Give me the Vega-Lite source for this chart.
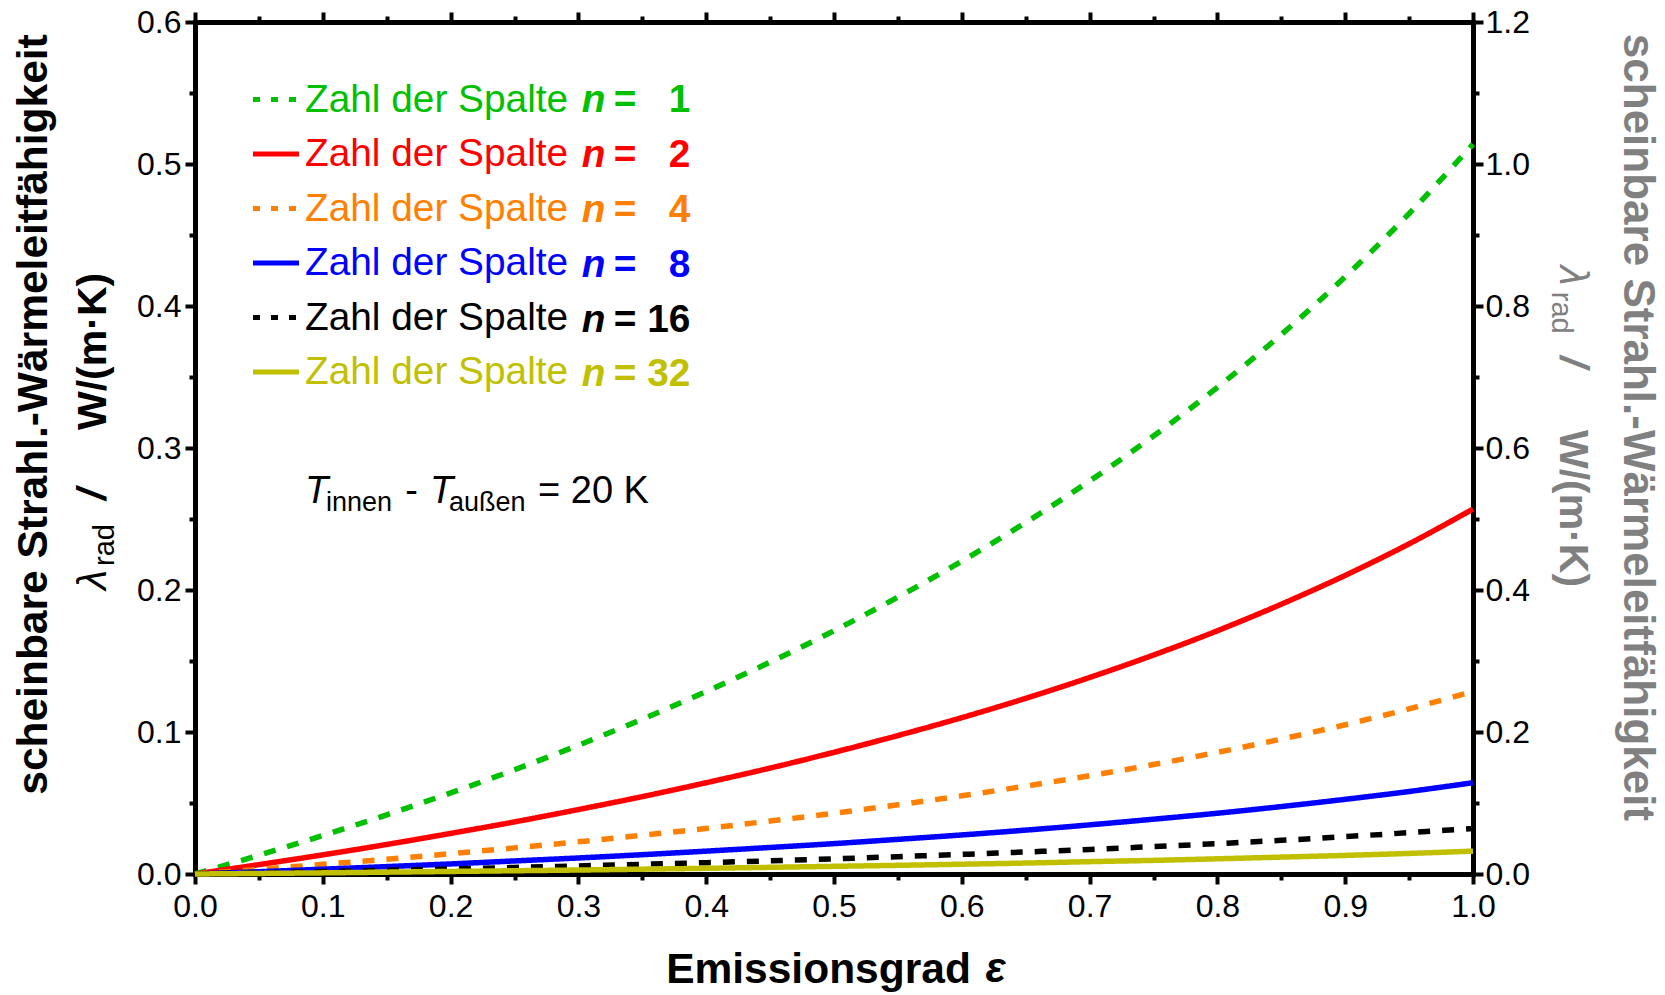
{
  "$schema": "https://vega.github.io/schema/vega-lite/v6.json",
  "width": 1278,
  "height": 852,
  "autosize": {"type": "none"},
  "padding": {"left": 195, "top": 22, "right": 192, "bottom": 121},
  "background": "white",
  "config": {
    "view": {"stroke": null},
    "font": "Liberation Sans",
    "axis": {
      "domainColor": "black", "domainWidth": 5, "domainCap": "square",
      "tickColor": "black", "tickWidth": 4,
      "labelColor": "black", "labelFont": "Liberation Sans", "labelFontSize": 32,
      "labelFlush": false, "labelOverlap": false, "grid": false,
      "titleFont": "Liberation Sans", "titleFontSize": 42.5, "titleFontWeight": "bold", "titleColor": "black"
    }
  },
  "datasets": {
    "curves": [
      {"eps":0,"lam":0,"n":1},{"eps":0.05,"lam":0.0132,"n":1},{"eps":0.1,"lam":0.0271,"n":1},{"eps":0.15,"lam":0.0417,"n":1},{"eps":0.2,"lam":0.0571,"n":1},{"eps":0.25,"lam":0.0734,"n":1},{"eps":0.3,"lam":0.0907,"n":1},{"eps":0.35,"lam":0.109,"n":1},{"eps":0.4,"lam":0.1285,"n":1},{"eps":0.45,"lam":0.1492,"n":1},{"eps":0.5,"lam":0.1713,"n":1},{"eps":0.55,"lam":0.195,"n":1},{"eps":0.6,"lam":0.2203,"n":1},{"eps":0.65,"lam":0.2475,"n":1},{"eps":0.7,"lam":0.2768,"n":1},{"eps":0.75,"lam":0.3084,"n":1},{"eps":0.8,"lam":0.3427,"n":1},{"eps":0.85,"lam":0.3799,"n":1},{"eps":0.9,"lam":0.4206,"n":1},{"eps":0.95,"lam":0.4651,"n":1},{"eps":1,"lam":0.514,"n":1},
      {"eps":0,"lam":0,"n":2},{"eps":0.05,"lam":0.0066,"n":2},{"eps":0.1,"lam":0.0135,"n":2},{"eps":0.15,"lam":0.0208,"n":2},{"eps":0.2,"lam":0.0286,"n":2},{"eps":0.25,"lam":0.0367,"n":2},{"eps":0.3,"lam":0.0454,"n":2},{"eps":0.35,"lam":0.0545,"n":2},{"eps":0.4,"lam":0.0643,"n":2},{"eps":0.45,"lam":0.0746,"n":2},{"eps":0.5,"lam":0.0857,"n":2},{"eps":0.55,"lam":0.0975,"n":2},{"eps":0.6,"lam":0.1101,"n":2},{"eps":0.65,"lam":0.1237,"n":2},{"eps":0.7,"lam":0.1384,"n":2},{"eps":0.75,"lam":0.1542,"n":2},{"eps":0.8,"lam":0.1713,"n":2},{"eps":0.85,"lam":0.19,"n":2},{"eps":0.9,"lam":0.2103,"n":2},{"eps":0.95,"lam":0.2325,"n":2},{"eps":1,"lam":0.257,"n":2},
      {"eps":0,"lam":0,"n":4},{"eps":0.05,"lam":0.0033,"n":4},{"eps":0.1,"lam":0.0068,"n":4},{"eps":0.15,"lam":0.0104,"n":4},{"eps":0.2,"lam":0.0143,"n":4},{"eps":0.25,"lam":0.0184,"n":4},{"eps":0.3,"lam":0.0227,"n":4},{"eps":0.35,"lam":0.0273,"n":4},{"eps":0.4,"lam":0.0321,"n":4},{"eps":0.45,"lam":0.0373,"n":4},{"eps":0.5,"lam":0.0428,"n":4},{"eps":0.55,"lam":0.0487,"n":4},{"eps":0.6,"lam":0.0551,"n":4},{"eps":0.65,"lam":0.0619,"n":4},{"eps":0.7,"lam":0.0692,"n":4},{"eps":0.75,"lam":0.0771,"n":4},{"eps":0.8,"lam":0.0857,"n":4},{"eps":0.85,"lam":0.095,"n":4},{"eps":0.9,"lam":0.1051,"n":4},{"eps":0.95,"lam":0.1163,"n":4},{"eps":1,"lam":0.1285,"n":4},
      {"eps":0,"lam":0,"n":8},{"eps":0.05,"lam":0.0016,"n":8},{"eps":0.1,"lam":0.0034,"n":8},{"eps":0.15,"lam":0.0052,"n":8},{"eps":0.2,"lam":0.0071,"n":8},{"eps":0.25,"lam":0.0092,"n":8},{"eps":0.3,"lam":0.0113,"n":8},{"eps":0.35,"lam":0.0136,"n":8},{"eps":0.4,"lam":0.0161,"n":8},{"eps":0.45,"lam":0.0187,"n":8},{"eps":0.5,"lam":0.0214,"n":8},{"eps":0.55,"lam":0.0244,"n":8},{"eps":0.6,"lam":0.0275,"n":8},{"eps":0.65,"lam":0.0309,"n":8},{"eps":0.7,"lam":0.0346,"n":8},{"eps":0.75,"lam":0.0386,"n":8},{"eps":0.8,"lam":0.0428,"n":8},{"eps":0.85,"lam":0.0475,"n":8},{"eps":0.9,"lam":0.0526,"n":8},{"eps":0.95,"lam":0.0581,"n":8},{"eps":1,"lam":0.0643,"n":8},
      {"eps":0,"lam":0,"n":16},{"eps":0.05,"lam":0.0008,"n":16},{"eps":0.1,"lam":0.0017,"n":16},{"eps":0.15,"lam":0.0026,"n":16},{"eps":0.2,"lam":0.0036,"n":16},{"eps":0.25,"lam":0.0046,"n":16},{"eps":0.3,"lam":0.0057,"n":16},{"eps":0.35,"lam":0.0068,"n":16},{"eps":0.4,"lam":0.008,"n":16},{"eps":0.45,"lam":0.0093,"n":16},{"eps":0.5,"lam":0.0107,"n":16},{"eps":0.55,"lam":0.0122,"n":16},{"eps":0.6,"lam":0.0138,"n":16},{"eps":0.65,"lam":0.0155,"n":16},{"eps":0.7,"lam":0.0173,"n":16},{"eps":0.75,"lam":0.0193,"n":16},{"eps":0.8,"lam":0.0214,"n":16},{"eps":0.85,"lam":0.0237,"n":16},{"eps":0.9,"lam":0.0263,"n":16},{"eps":0.95,"lam":0.0291,"n":16},{"eps":1,"lam":0.0321,"n":16},
      {"eps":0,"lam":0,"n":32},{"eps":0.05,"lam":0.0004,"n":32},{"eps":0.1,"lam":0.0008,"n":32},{"eps":0.15,"lam":0.0013,"n":32},{"eps":0.2,"lam":0.0018,"n":32},{"eps":0.25,"lam":0.0023,"n":32},{"eps":0.3,"lam":0.0028,"n":32},{"eps":0.35,"lam":0.0034,"n":32},{"eps":0.4,"lam":0.004,"n":32},{"eps":0.45,"lam":0.0047,"n":32},{"eps":0.5,"lam":0.0054,"n":32},{"eps":0.55,"lam":0.0061,"n":32},{"eps":0.6,"lam":0.0069,"n":32},{"eps":0.65,"lam":0.0077,"n":32},{"eps":0.7,"lam":0.0087,"n":32},{"eps":0.75,"lam":0.0096,"n":32},{"eps":0.8,"lam":0.0107,"n":32},{"eps":0.85,"lam":0.0119,"n":32},{"eps":0.9,"lam":0.0131,"n":32},{"eps":0.95,"lam":0.0145,"n":32},{"eps":1,"lam":0.0161,"n":32}
    ]
  },
  "layer": [
    {
      "layer": [
        {
          "data": {"name": "curves"},
          "mark": {"type": "line", "interpolate": "monotone", "strokeCap": "butt"},
          "encoding": {
            "x": {
              "field": "eps", "type": "quantitative",
              "scale": {"domain": [0, 1], "nice": false, "zero": false},
              "axis": {
                "orient": "bottom",
                "values": [0,0.05,0.1,0.15,0.2,0.25,0.3,0.35,0.4,0.45,0.5,0.55,0.6,0.65,0.7,0.75,0.8,0.85,0.9,0.95,1],
                "labelExpr": "round(datum.value*20) % 2 == 0 ? format(datum.value, '.1f') : ''",
                "tickSize": {"condition": {"test": "round(datum.value*20) % 2 == 0", "value": 10}, "value": 6},
                "labelPadding": 7,
                "title": "Emissionsgrad",
                "titleBaseline": "alphabetic",
                "titleX": 623, "titleY": 108
              }
            },
            "y": {
              "field": "lam", "type": "quantitative",
              "scale": {"domain": [0, 0.6], "nice": false},
              "axis": {
                "orient": "left",
                "values": [0,0.05,0.1,0.15,0.2,0.25,0.3,0.35,0.4,0.45,0.5,0.55,0.6],
                "labelExpr": "round(datum.value*20) % 2 == 0 ? format(datum.value, '.1f') : ''",
                "tickSize": {"condition": {"test": "round(datum.value*20) % 2 == 0", "value": 10}, "value": 6},
                "labelPadding": 4,
                "title": "scheinbare Strahl.-Wärmeleitfähigkeit",
                "titleBaseline": "alphabetic",
                "titleX": -149, "titleY": 392
              }
            },
            "color": {
              "field": "n", "type": "nominal",
              "scale": {"domain": [1, 2, 4, 8, 16, 32], "range": ["#00C000", "#FF0000", "#FF8000", "#0000FF", "#000000", "#C0C000"]},
              "legend": {
                "orient": "none", "legendX": 55.5, "legendY": 52, "title": null, "padding": 0,
                "symbolType": "stroke", "symbolSize": 2116, "symbolStrokeWidth": 5,
                "symbolDash": {"expr": "indexof([1,4,16], datum.value) >= 0 ? [7,11] : [1,0]"},
                "labelExpr": "'Zahl der Spalte'",
                "labelColor": {"expr": "scale('color', datum.value)"},
                "labelFont": "Liberation Sans", "labelFontSize": 38.8, "labelOffset": 3.5, "labelLimit": 0,
                "rowPadding": 8.5
              }
            },
            "strokeDash": {
              "field": "n", "type": "nominal",
              "scale": {"range": [[12, 12], [1, 0], [12, 12], [1, 0], [12, 12], [1, 0]]},
              "legend": null
            },
            "opacity": {
              "field": "n", "type": "ordinal",
              "sort": {"field": "n", "op": "max"},
              "scale": {"range": [1, 1]},
              "legend": {
                "orient": "none", "legendX": 348, "legendY": 59, "title": null, "padding": 0,
                "symbolType": "stroke", "symbolSize": 1, "symbolStrokeWidth": 0, "symbolStrokeColor": "transparent", "symbolFillColor": "transparent",
                "labelExpr": "'n'",
                "labelColor": {"expr": "scale('color', datum.value)"},
                "labelFont": "Liberation Sans", "labelFontSize": 38.8, "labelFontWeight": "bold", "labelFontStyle": "italic",
                "labelOffset": 0, "labelLimit": 0, "rowPadding": 14.8
              }
            },
            "strokeWidth": {
              "field": "n", "type": "ordinal",
              "sort": {"field": "n", "op": "min"},
              "scale": {"range": [5.5, 5.5]},
              "legend": {
                "orient": "none", "legendX": 380, "legendY": 59, "title": null, "padding": 0,
                "symbolType": "stroke", "symbolSize": 1, "symbolStrokeColor": "transparent", "symbolFillColor": "transparent",
                "labelExpr": "'= ' + (datum.value < 10 ? '\u2007' : '') + datum.label",
                "labelColor": {"expr": "scale('color', datum.value)"},
                "labelFont": "Liberation Sans", "labelFontSize": 38.8, "labelFontWeight": "bold",
                "labelOffset": 0, "labelLimit": 0, "rowPadding": 14.8
              }
            }
          }
        },
        {
          "data": {"values": [{}]},
          "mark": {"type": "text", "text": "T", "fontSize": 38, "fontStyle": "italic", "align": "left", "baseline": "alphabetic", "color": "black"},
          "encoding": {"x": {"datum": 0.0861, "type": "quantitative"}, "y": {"datum": 0.2613, "type": "quantitative"}}
        },
        {
          "data": {"values": [{}]},
          "mark": {"type": "text", "text": "innen", "fontSize": 27, "align": "left", "baseline": "alphabetic", "color": "black"},
          "encoding": {"x": {"datum": 0.1025, "type": "quantitative"}, "y": {"datum": 0.2553, "type": "quantitative"}}
        },
        {
          "data": {"values": [{}]},
          "mark": {"type": "text", "text": "-", "fontSize": 38, "align": "left", "baseline": "alphabetic", "color": "black"},
          "encoding": {"x": {"datum": 0.1645, "type": "quantitative"}, "y": {"datum": 0.2613, "type": "quantitative"}}
        },
        {
          "data": {"values": [{}]},
          "mark": {"type": "text", "text": "T", "fontSize": 38, "fontStyle": "italic", "align": "left", "baseline": "alphabetic", "color": "black"},
          "encoding": {"x": {"datum": 0.1839, "type": "quantitative"}, "y": {"datum": 0.2613, "type": "quantitative"}}
        },
        {
          "data": {"values": [{}]},
          "mark": {"type": "text", "text": "außen", "fontSize": 27, "align": "left", "baseline": "alphabetic", "color": "black"},
          "encoding": {"x": {"datum": 0.1987, "type": "quantitative"}, "y": {"datum": 0.2553, "type": "quantitative"}}
        },
        {
          "data": {"values": [{}]},
          "mark": {"type": "text", "text": "ε", "fontSize": 42, "fontStyle": "italic", "fontWeight": "bold", "align": "left", "baseline": "alphabetic", "color": "black"},
          "encoding": {"x": {"datum": 0.6185, "type": "quantitative"}, "y": {"datum": -0.0761, "type": "quantitative"}}
        },
        {
          "data": {"values": [{}]},
          "mark": {"type": "text", "text": "λ", "fontSize": 41, "fontStyle": "italic", "angle": 270, "align": "left", "baseline": "alphabetic", "color": "black"},
          "encoding": {"x": {"datum": -0.0696, "type": "quantitative"}, "y": {"datum": 0.2, "type": "quantitative"}}
        },
        {
          "data": {"values": [{}]},
          "mark": {"type": "text", "text": "rad", "fontSize": 29, "angle": 270, "align": "left", "baseline": "alphabetic", "color": "black"},
          "encoding": {"x": {"datum": -0.0634, "type": "quantitative"}, "y": {"datum": 0.2169, "type": "quantitative"}}
        },
        {
          "data": {"values": [{}]},
          "mark": {"type": "text", "text": "/", "fontSize": 41, "fontStyle": "italic", "fontWeight": "bold", "angle": 270, "align": "left", "baseline": "alphabetic", "color": "black"},
          "encoding": {"x": {"datum": -0.0696, "type": "quantitative"}, "y": {"datum": 0.2634, "type": "quantitative"}}
        },
        {
          "data": {"values": [{}]},
          "mark": {"type": "text", "text": "W/(m·K)", "fontSize": 41, "fontWeight": "bold", "angle": 270, "align": "left", "baseline": "alphabetic", "color": "black"},
          "encoding": {"x": {"datum": -0.0696, "type": "quantitative"}, "y": {"datum": 0.3127, "type": "quantitative"}}
        },
        {
          "data": {"values": [{}]},
          "mark": {"type": "text", "text": "λ", "fontSize": 41, "fontStyle": "italic", "angle": 90, "align": "left", "baseline": "alphabetic", "color": "#808080"},
          "encoding": {"x": {"datum": 1.068, "type": "quantitative"}, "y": {"datum": 0.4285, "type": "quantitative"}}
        },
        {
          "data": {"values": [{}]},
          "mark": {"type": "text", "text": "rad", "fontSize": 29, "angle": 90, "align": "left", "baseline": "alphabetic", "color": "#808080"},
          "encoding": {"x": {"datum": 1.0618, "type": "quantitative"}, "y": {"datum": 0.41, "type": "quantitative"}}
        },
        {
          "data": {"values": [{}]},
          "mark": {"type": "text", "text": "/", "fontSize": 41, "fontStyle": "italic", "fontWeight": "bold", "angle": 90, "align": "left", "baseline": "alphabetic", "color": "#808080"},
          "encoding": {"x": {"datum": 1.068, "type": "quantitative"}, "y": {"datum": 0.3648, "type": "quantitative"}}
        },
        {
          "data": {"values": [{}]},
          "mark": {"type": "text", "text": "W/(m·K)", "fontSize": 41, "fontWeight": "bold", "angle": 90, "align": "left", "baseline": "alphabetic", "color": "#808080"},
          "encoding": {"x": {"datum": 1.068, "type": "quantitative"}, "y": {"datum": 0.3127, "type": "quantitative"}}
        }
      ]
    },
    {
      "data": {"values": [{}]},
      "mark": {"type": "text", "text": "= 20 K", "fontSize": 38, "align": "left", "baseline": "alphabetic", "color": "black"},
      "encoding": {
        "x": {
          "datum": 0.2684, "type": "quantitative",
          "scale": {"domain": [0, 1], "nice": false, "zero": false},
          "axis": {
            "orient": "top", "labels": false, "title": null,
            "values": [0,0.05,0.1,0.15,0.2,0.25,0.3,0.35,0.4,0.45,0.5,0.55,0.6,0.65,0.7,0.75,0.8,0.85,0.9,0.95,1],
            "tickSize": {"condition": {"test": "round(datum.value*20) % 2 == 0", "value": 10}, "value": 6}
          }
        },
        "y": {
          "datum": 0.2613, "type": "quantitative",
          "scale": {"domain": [0, 0.6], "nice": false},
          "axis": {
            "orient": "right",
            "values": [0,0.05,0.1,0.15,0.2,0.25,0.3,0.35,0.4,0.45,0.5,0.55,0.6],
            "labelExpr": "round(datum.value*20) % 2 == 0 ? format(datum.value*2, '.1f') : ''",
            "tickSize": {"condition": {"test": "round(datum.value*20) % 2 == 0", "value": 10}, "value": 6},
            "labelPadding": 2,
            "title": "scheinbare Strahl.-Wärmeleitfähigkeit",
            "titleColor": "#808080",
            "titleFontSize": 44,
            "titleBaseline": "alphabetic",
            "titleX": 150, "titleY": 405
          }
        }
      }
    }
  ],
  "resolve": {"axis": {"x": "independent", "y": "independent"}}
}
